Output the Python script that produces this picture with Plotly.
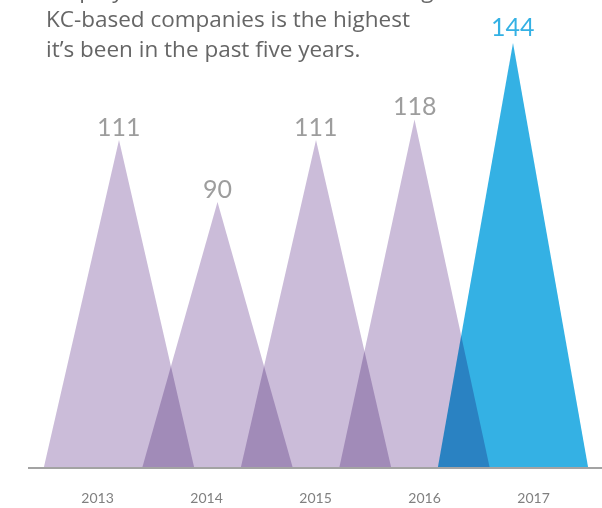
import plotly.graph_objects as go

years = ["2013", "2014", "2015", "2016", "2017"]
values = [111, 90, 111, 118, 144]
colors = ["#cbbcd9", "#cbbcd9", "#cbbcd9", "#cbbcd9", "#34b1e4"]
label_colors = ["#9d9d9d", "#9d9d9d", "#9d9d9d", "#9d9d9d", "#34b1e4"]
intro_lines = [
    "Employment at the one hundred largest",
    "KC-based companies is the highest",
    "it\u2019s been in the past five years.",
]

W, H = 602, 508
L, B = 28, 41
half_w = 0.762          # triangle half-width in category units
px_tri = 98.5           # px per category for triangles
px_lab = 109.0          # px per category for year labels
c0_tri = 119.0
c0_lab = 97.5
px_per_unit = 2.945

plot_w = W - L
plot_h = H - B
r0 = -(c0_tri - L) / px_tri
r0b = -(c0_lab - L) / px_lab

fig = go.Figure()
for i, (yr, v, c) in enumerate(zip(years, values, colors)):
    fig.add_trace(go.Scatter(
        x=[i - half_w, i, i + half_w, i - half_w],
        y=[0, v, 0, 0],
        fill="toself", fillcolor=c, mode="lines",
        line=dict(width=0, color=c), hoverinfo="skip", showlegend=False,
        name=yr,
    ))

fig.add_trace(go.Scatter(x=list(range(len(years))), y=[0] * len(years),
                         xaxis="x2", mode="markers", marker=dict(opacity=0),
                         hoverinfo="skip", showlegend=False))

annotations = []
for i, (v, lc) in enumerate(zip(values, label_colors)):
    annotations.append(dict(x=i, y=v, xref="x", yref="y", text=str(v),
                            showarrow=False, yanchor="bottom",
                            yshift=(0 if i == len(values) - 1 else -3),
                            font=dict(family="Lato", size=25, color=lc)))

annotations.append(dict(x=(44 - L) / plot_w, y=1 + 28 / plot_h, xref="paper", yref="paper",
                        xanchor="left", yanchor="top", align="left",
                        text="<br>".join(intro_lines), showarrow=False,
                        font=dict(family="Open Sans", size=22.5, color="#666666")))

fig.update_layout(
    width=W, height=H,
    margin=dict(l=L, r=0, t=0, b=B, pad=0),
    paper_bgcolor="white", plot_bgcolor="white",
    xaxis=dict(range=[r0, r0 + plot_w / px_tri], showgrid=False, zeroline=False,
               showticklabels=False, showline=True, linecolor="#a3a3a3",
               linewidth=2, ticks=""),
    xaxis2=dict(range=[r0b, r0b + plot_w / px_lab], overlaying="x", side="bottom",
                anchor="y", tickvals=list(range(len(years))), ticktext=years,
                showgrid=False, zeroline=False, showline=False,
                ticks="outside", ticklen=18, tickcolor="rgba(0,0,0,0)",
                tickfont=dict(family="Lato", size=14, color="#808080")),
    yaxis=dict(range=[0, plot_h / px_per_unit], visible=False),
    annotations=annotations,
)

post = ("var s=document.createElement('style');"
        "s.innerHTML='body{margin:0;padding:0;overflow:hidden;}"
        ".scatterlayer .trace{mix-blend-mode:multiply;}';"
        "document.head.appendChild(s);")
fig.write_html("out.html", post_script=post, config={"displayModeBar": False})
